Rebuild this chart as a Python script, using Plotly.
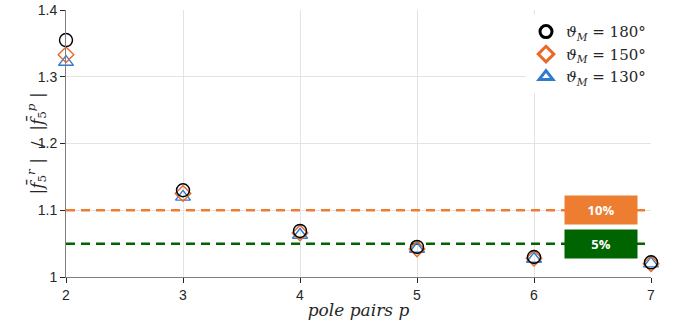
import plotly.graph_objects as go

pole_pairs = [2, 3, 4, 5, 6, 7]
ratio_180 = [1.355, 1.130, 1.069, 1.045, 1.030, 1.022]
ratio_150 = [1.333, 1.125, 1.066, 1.042, 1.028, 1.020]
ratio_130 = [1.322, 1.120, 1.063, 1.042, 1.027, 1.020]
labels = ["<i>ϑ</i><sub><i>M</i></sub> = 180°", "<i>ϑ</i><sub><i>M</i></sub> = 150°", "<i>ϑ</i><sub><i>M</i></sub> = 130°"]
thresholds = [1.10, 1.05]
threshold_labels = ["10%", "5%"]
y_title = "|<i>f̄</i><sub>5</sub><sup><i>r</i></sup> |  /  |<i>f̄</i><sub>5</sub><sup><i>p</i></sup> |"

series = [ratio_180, ratio_150, ratio_130]
symbols = ["circle-open", "diamond-open", "triangle-up-open"]
colors = ["#000000", "#E8692A", "#2E7BD0"]
sizes = [13, 12, 13]
thr_colors = ["#ED7D31", "#006400"]

fig = go.Figure()

for thr, c in zip(thresholds, thr_colors):
    fig.add_trace(go.Scatter(x=[min(pole_pairs), max(pole_pairs)], y=[thr, thr], mode="lines",
                             line=dict(color=c, width=2.5, dash="9px,6px"), showlegend=False,
                             hoverinfo="skip"))

for ys, sym, c, s in zip(series[::-1], symbols[::-1], colors[::-1], sizes[::-1]):
    fig.add_trace(go.Scatter(x=pole_pairs, y=ys, mode="markers", cliponaxis=False,
                             marker=dict(symbol=sym, size=s, color=c, line=dict(width=1.4, color=c)),
                             showlegend=False))

for lab, sym, c in zip(labels, symbols, colors):
    fig.add_trace(go.Scatter(x=[None], y=[None], mode="markers", name=lab,
                             marker=dict(symbol=sym, size=12, color=c, line=dict(width=3, color=c))))

for thr, lab, c in zip(thresholds, threshold_labels, thr_colors):
    fig.add_annotation(x=6.57, y=thr, xref="x", yref="y", text="<b>" + lab + "</b>",
                       showarrow=False, bgcolor=c, width=70, height=26,
                       font=dict(color="white", size=13, family="Open Sans"))

fig.add_annotation(x=0, y=0.5, xref="paper", yref="paper", xanchor="center", yanchor="middle",
                   xshift=-29, textangle=-90, text=y_title, showarrow=False,
                   font=dict(family="DejaVu Serif", size=17, color="#262626"))

fig.update_layout(
    width=675, height=324,
    margin=dict(l=66, r=24, t=10, b=47, autoexpand=False),
    plot_bgcolor="white", paper_bgcolor="white",
    font=dict(family="Liberation Sans, Arial", size=14, color="#262626"),
    legend=dict(x=1.0, y=0.98, xanchor="right", yanchor="top", bgcolor="white",
                font=dict(family="DejaVu Serif", size=15, color="#262626"),
                itemwidth=30, tracegroupgap=0),
    xaxis=dict(range=[2, 7], tickvals=pole_pairs, showgrid=True, gridcolor="#E3E3E3",
               showline=True, linecolor="#7F7F7F", linewidth=1, ticks="outside",
               ticklen=5, tickcolor="#262626", zeroline=False, automargin=False,
               title=dict(text="<i>pole pairs p</i>", standoff=2,
                          font=dict(family="DejaVu Serif", size=17, color="#262626"))),
    yaxis=dict(range=[1, 1.4], tickvals=[1, 1.1, 1.2, 1.3, 1.4], ticktext=["1", "1.1", "1.2", "1.3", "1.4"],
               showgrid=True, gridcolor="#E3E3E3",
               showline=True, linecolor="#7F7F7F", linewidth=1, ticks="outside",
               ticklen=5, tickcolor="#262626", zeroline=False, automargin=False),
)

fig.write_html("out.html")
